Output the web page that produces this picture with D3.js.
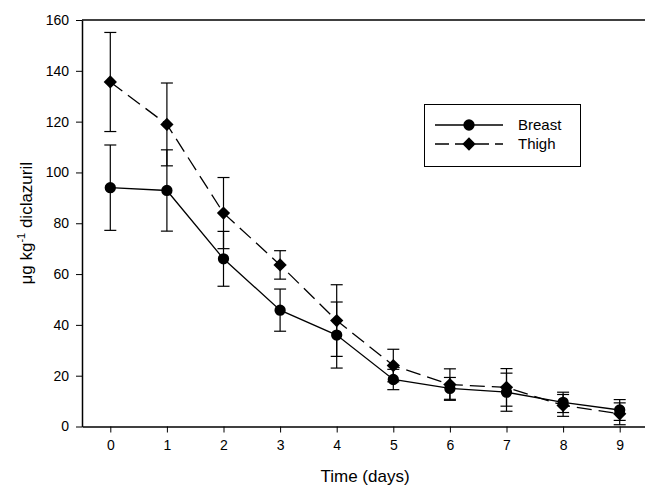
<!DOCTYPE html>
<html>
<head>
<meta charset="utf-8">
<script src="https://cdn.jsdelivr.net/npm/d3@7"></script>
<style>
  body { margin: 0; background: #fff; }
  svg { display: block; font-family: "Liberation Sans", Arial, sans-serif; }
</style>
</head>
<body>
<div id="chart"></div>
<script>
// chart values
const days = [0, 1, 2, 3, 4, 5, 6, 7, 8, 9];
const breastMean = [94, 92.9, 66, 45.8, 36, 18.5, 15, 13.5, 9.5, 6.5];
const breastErr = [16.8, 16, 10.8, 8.3, 13, 4, 4.3, 7.5, 4, 4.1];
const thighMean = [135.6, 118.9, 84, 63.6, 41.7, 24, 16.5, 15.4, 8.3, 5];
const thighErr = [19.5, 16.3, 14, 5.6, 14.1, 6.4, 6.2, 7.4, 4.3, 4.3];
const yTicks = [0, 20, 40, 60, 80, 100, 120, 140, 160];

let width = 645;
let height = 485;
let margin = { top: 20, right: 0, bottom: 58, left: 82 };

let svg = d3.select("#chart")
    .append("svg")
    .attr("width", width)
    .attr("height", height);

let x = d3.scaleLinear()
    .domain([-0.5, 9.5])
    .range([margin.left, 648]);

let y = d3.scaleLinear()
    .domain([0, 160])
    .range([height - margin.bottom - 0.5, margin.top]);

// square diamond (rotated square), d3's own diamond is too tall
const squareDiamond = {
    draw: function (context, size) {
        let r = Math.sqrt(size / 2);
        context.moveTo(0, -r);
        context.lineTo(r, 0);
        context.lineTo(0, r);
        context.lineTo(-r, 0);
        context.closePath();
    }
};

let series = [
    { name: "Breast", mean: breastMean, err: breastErr, dash: null, shape: d3.symbolCircle, size: 100 },
    { name: "Thigh", mean: thighMean, err: thighErr, dash: "15,7", shape: squareDiamond, size: 88 }
];

// axes
let xAxis = svg.append("g")
    .attr("transform", "translate(0," + y(0) + ")")
    .call(d3.axisBottom(x).tickValues(days).tickSize(6).tickSizeOuter(0).tickPadding(8));

let yAxis = svg.append("g")
    .attr("transform", "translate(" + margin.left + ",0)")
    .call(d3.axisLeft(y).tickValues(yTicks).tickSize(6).tickSizeOuter(0).tickPadding(7));

[xAxis, yAxis].forEach(function (a) {
    a.select(".domain").attr("stroke", "#000").attr("stroke-width", 1.5);
    a.selectAll(".tick line").attr("stroke", "#000").attr("stroke-width", 1);
    a.selectAll("text").attr("fill", "#000").style("font-size", "14px");
});

// top frame line
svg.append("line")
    .attr("x1", margin.left).attr("x2", width)
    .attr("y1", y(160)).attr("y2", y(160))
    .attr("stroke", "#000").attr("stroke-width", 1.5);

// error bars
let capW = 6;
series.forEach(function (s) {
    let g = svg.append("g").attr("stroke", "#000").attr("stroke-width", 1.2);
    days.forEach(function (d, i) {
        let lo = y(s.mean[i] - s.err[i]), hi = y(s.mean[i] + s.err[i]);
        g.append("line").attr("x1", x(d)).attr("x2", x(d)).attr("y1", lo).attr("y2", hi);
        g.append("line").attr("x1", x(d) - capW).attr("x2", x(d) + capW).attr("y1", lo).attr("y2", lo);
        g.append("line").attr("x1", x(d) - capW).attr("x2", x(d) + capW).attr("y1", hi).attr("y2", hi);
    });
});

// lines
let line = d3.line().x((d) => x(d[0])).y((d) => y(d[1]));
series.forEach(function (s) {
    svg.append("path")
        .datum(days.map((d, i) => [d, s.mean[i]]))
        .attr("d", line)
        .attr("fill", "none")
        .attr("stroke", "#000")
        .attr("stroke-width", 1.3)
        .attr("stroke-dasharray", s.dash);
});

// markers
series.forEach(function (s) {
    svg.selectAll(null)
        .data(days)
        .enter()
        .append("path")
        .attr("d", d3.symbol().type(s.shape).size(s.size))
        .attr("transform", (d, i) => "translate(" + x(d) + "," + y(s.mean[i]) + ")")
        .attr("fill", "#000");
});

// axis titles
svg.append("text")
    .attr("x", (x(0) + x(9)) / 2)
    .attr("y", 482)
    .attr("text-anchor", "middle")
    .style("font-size", "17px")
    .text("Time (days)");

let yl = svg.append("text")
    .attr("transform", "translate(32," + ((y(0) + y(160)) / 2) + ") rotate(-90)")
    .attr("text-anchor", "middle")
    .style("font-size", "17px");
yl.append("tspan").text("μg kg");
yl.append("tspan").attr("dy", -7).style("font-size", "11px").text("-1");
yl.append("tspan").attr("dy", 7).text(" diclazuril");

// legend
let lg = svg.append("g");
lg.append("rect")
    .attr("x", 424.5).attr("y", 104.5)
    .attr("width", 156).attr("height", 62)
    .attr("fill", "#fff").attr("stroke", "#000").attr("stroke-width", 1);
series.forEach(function (s, i) {
    let ly = 125 + i * 19;
    lg.append("line")
        .attr("x1", 435).attr("x2", 503)
        .attr("y1", ly).attr("y2", ly)
        .attr("stroke", "#000").attr("stroke-width", 1.3)
        .attr("stroke-dasharray", s.dash ? "14,6" : null);
    lg.append("path")
        .attr("d", d3.symbol().type(s.shape).size(s.size))
        .attr("transform", "translate(469," + ly + ")")
        .attr("fill", "#000");
    lg.append("text")
        .attr("x", 518).attr("y", ly + 5)
        .style("font-size", "15px")
        .text(s.name);
});
</script>
</body>
</html>
